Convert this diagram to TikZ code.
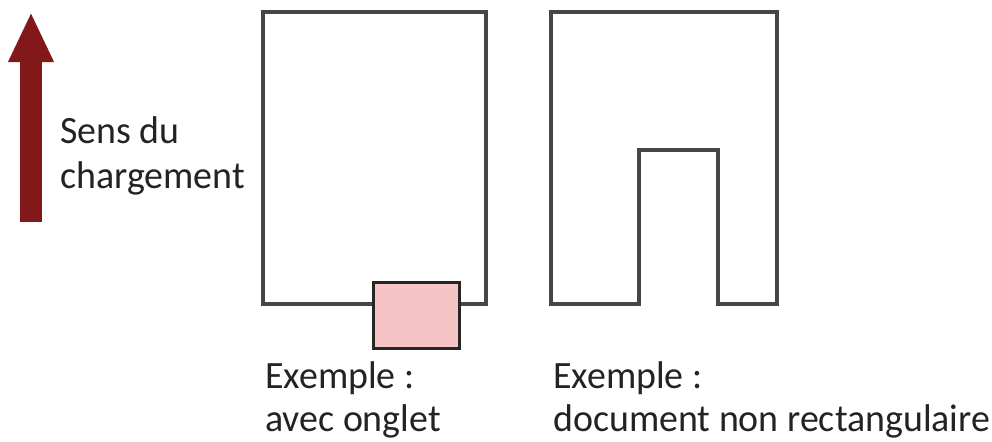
\documentclass[tikz,border=0pt]{standalone}
\usepackage{fontspec}
\setmainfont{Carlito}
\usepackage{tikz}
\usetikzlibrary{arrows.meta}
\definecolor{loadred}{RGB}{130,24,26}
\definecolor{tabpink}{RGB}{246,196,196}
\definecolor{edgegray}{RGB}{70,70,70}
\definecolor{textgray}{RGB}{35,35,35}

\tikzset{
  sheet/.style={draw=edgegray,line width=2.2pt,line join=miter},
  tabbox/.style={draw=black!85,fill=tabpink,line width=2.2pt},
  caption/.style={anchor=base west,inner sep=0pt,text=textgray,
    font=\fontsize{27.5}{33}\selectfont\addfontfeature{FakeStretch=0.98}}
}

\begin{document}
\begin{tikzpicture}[x=0.025cm,y=-0.025cm]
  \useasboundingbox (0,0) rectangle (992,441);
  % loading direction
  \coordinate (foot) at (31,222);
  \coordinate (tip) at (31,12);
  \draw[loadred,line width=0.525cm,-{Triangle[width=1.05cm,length=1.25cm]}] (foot) -- (tip);
  \node[caption] (sens) at (60,143) {Sens du};
  \node[caption] (charge) at (60,188) {chargement};
  % sheet with a tab
  \draw[sheet] (263,12) rectangle (486,304);
  \node[tabbox,minimum width=86*0.025cm,minimum height=66*0.025cm,inner sep=0pt,anchor=north west] (tab) at (372,281) {};
  \node[caption] (ex1) at (265,388) {Exemple :};
  \node[caption] (ex1b) at (265,431) {avec onglet};
  % sheet that is not a rectangle
  \draw[sheet] (639,304) -- (551,304) -- (551,12) -- (777,12) -- (777,304)
    -- (718,304) -- (718,150) -- (639,150) -- cycle;
  \node[caption] (ex2) at (553,388) {Exemple :};
  \node[caption] (ex2b) at (553,431) {document non rectangulaire};
\end{tikzpicture}
\end{document}
